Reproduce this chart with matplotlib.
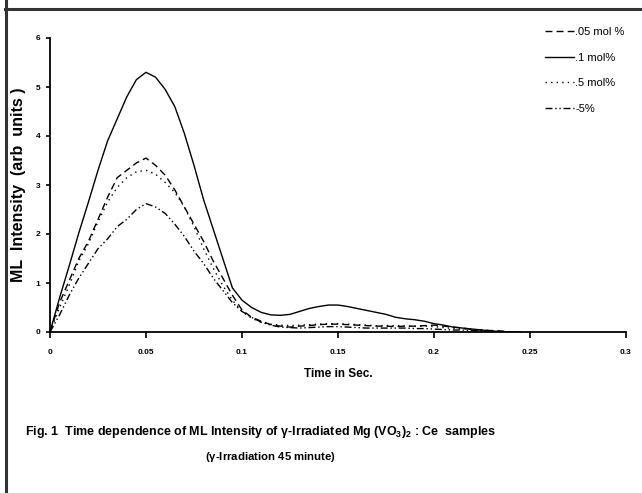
import matplotlib
matplotlib.use("Agg")
import matplotlib.pyplot as plt

plt.rcParams['font.family'] = ['Liberation Sans', 'DejaVu Sans']
plt.rcParams['mathtext.fontset'] = 'custom'
plt.rcParams['mathtext.rm'] = 'Liberation Sans:bold'
plt.rcParams['mathtext.it'] = 'Liberation Sans:bold'
plt.rcParams['mathtext.bf'] = 'Liberation Sans:bold'

# time (sec)
time = [0, 0.005, 0.01, 0.015, 0.02, 0.025, 0.03, 0.035, 0.04, 0.045,
        0.05, 0.055, 0.06, 0.065, 0.07, 0.075, 0.08, 0.085, 0.09, 0.095,
        0.1, 0.105, 0.11, 0.115, 0.12, 0.125, 0.13, 0.135, 0.14, 0.145,
        0.15, 0.155, 0.16, 0.165, 0.17, 0.175, 0.18, 0.185, 0.19, 0.195,
        0.2, 0.205, 0.21, 0.215, 0.22, 0.225, 0.23, 0.235, 0.24, 0.245]

# ML intensity for each concentration
ml_005 = [0, 0.6, 1.05, 1.5, 1.85, 2.3, 2.75, 3.15, 3.3, 3.45,
          3.55, 3.4, 3.2, 2.9, 2.55, 2.2, 1.85, 1.45, 1.1, 0.75,
          0.45, 0.3, 0.22, 0.15, 0.12, 0.1, 0.12, 0.13, 0.15, 0.16,
          0.16, 0.15, 0.14, 0.13, 0.12, 0.12, 0.11, 0.12, 0.12, 0.13,
          0.14, 0.12, 0.1, 0.08, 0.05, 0.04, 0.03, 0.02, 0, 0]
ml_01 = [0, 0.7, 1.35, 2.02, 2.65, 3.3, 3.9, 4.35, 4.8, 5.15,
         5.3, 5.2, 4.95, 4.6, 4.05, 3.4, 2.7, 2.1, 1.5, 0.9,
         0.65, 0.5, 0.4, 0.35, 0.34, 0.36, 0.42, 0.48, 0.52, 0.55,
         0.55, 0.52, 0.48, 0.44, 0.4, 0.36, 0.3, 0.27, 0.25, 0.22,
         0.17, 0.14, 0.1, 0.08, 0.06, 0.04, 0.02, 0.01, 0, 0]
ml_05 = [0, 0.5, 0.95, 1.45, 1.8, 2.25, 2.65, 2.95, 3.15, 3.27,
         3.3, 3.22, 3.05, 2.85, 2.55, 2.15, 1.7, 1.3, 0.95, 0.65,
         0.42, 0.28, 0.2, 0.16, 0.14, 0.13, 0.14, 0.15, 0.16, 0.17,
         0.17, 0.16, 0.15, 0.14, 0.13, 0.13, 0.13, 0.12, 0.12, 0.12,
         0.11, 0.09, 0.07, 0.06, 0.05, 0.04, 0.02, 0.01, 0, 0]
ml_5 = [0, 0.35, 0.75, 1.1, 1.4, 1.7, 1.9, 2.15, 2.3, 2.5,
        2.62, 2.55, 2.42, 2.2, 1.95, 1.65, 1.4, 1.1, 0.85, 0.6,
        0.42, 0.3, 0.2, 0.14, 0.1, 0.09, 0.08, 0.09, 0.1, 0.11,
        0.11, 0.1, 0.09, 0.08, 0.08, 0.08, 0.08, 0.08, 0.07, 0.07,
        0.06, 0.05, 0.04, 0.04, 0.03, 0.02, 0.01, 0, 0, 0]

labels = ['.05 mol %', '.1 mol%', '.5 mol%', '-5%']
xticks = [0, 0.05, 0.1, 0.15, 0.2, 0.25, 0.3]
xticklabels = ['0', '0.05', '0.1', '0.15', '0.2', '0.25', '0.3']
yticks = [0, 1, 2, 3, 4, 5, 6]

fig = plt.figure(figsize=(6.42, 4.93), dpi=100)

# outer frame: left and top edges (pixel coords on a background axes)
bg = fig.add_axes([0, 0, 1, 1], zorder=-1)
bg.set_xlim(0, 642)
bg.set_ylim(493, 0)
bg.axis('off')
bg.axvline(5.5, color='#333333', lw=2.2)
bg.axhline(9, color='#333333', lw=2.2, xmin=5 / 642, xmax=1)

ax = fig.add_axes([50 / 642, 1 - 332 / 493, 576 / 642, 294 / 493])
ax.patch.set_alpha(0)

ax.plot(time, ml_005, color='black', lw=1.0, linestyle=(0, (5, 3)), label=labels[0])
ax.plot(time, ml_01, color='black', lw=1.0, linestyle='-', label=labels[1])
ax.plot(time, ml_05, color='black', lw=1.0, linestyle=(0, (1, 3)), label=labels[2])
ax.plot(time, ml_5, color='black', lw=1.0, linestyle=(0, (5, 2, 1, 2, 1, 2)), label=labels[3])

ax.set_xlim(0, 0.3)
ax.set_ylim(0, 6)
ax.set_xticks(xticks)
ax.set_xticklabels(xticklabels)
ax.set_yticks(yticks)
for s in ['top', 'right']:
    ax.spines[s].set_visible(False)
for s in ['left', 'bottom']:
    ax.spines[s].set_linewidth(1.3)
ax.tick_params(axis='x', direction='out', length=4, width=1.2, pad=8,
               labelsize=6)
ax.tick_params(axis='y', direction='out', length=3, width=1.2, pad=4,
               labelsize=6)
for t in ax.get_xticklabels() + ax.get_yticklabels():
    t.set_fontweight('bold')

ax.set_xlabel('Time in Sec.', fontsize=8.5, fontweight='bold', labelpad=9)
ax.set_ylabel('ML  Intensity  (arb  units )', fontsize=11.5, fontweight='bold')
ax.yaxis.set_label_coords(-0.0425, 0.5)

fig.legend(loc='upper left', bbox_to_anchor=(545 / 642, 1 - 27 / 493),
           frameon=False, fontsize=8, handlelength=2.6, handletextpad=0.1,
           labelspacing=1.4, borderaxespad=0, borderpad=0)

fig.text(261 / 642, 1 - 432 / 493,
         r'Fig. 1  Time dependence of ML Intensity of $\gamma$-Irradiated Mg (VO$_3$)$_2$ : Ce  samples',
         ha='center', va='center', fontsize=9, fontweight='bold')
fig.text(270 / 642, 1 - 457 / 493, r'($\gamma$-Irradiation 45 minute)',
         ha='center', va='center', fontsize=8.2, fontweight='bold')

fig.savefig('out.png', dpi=100)
